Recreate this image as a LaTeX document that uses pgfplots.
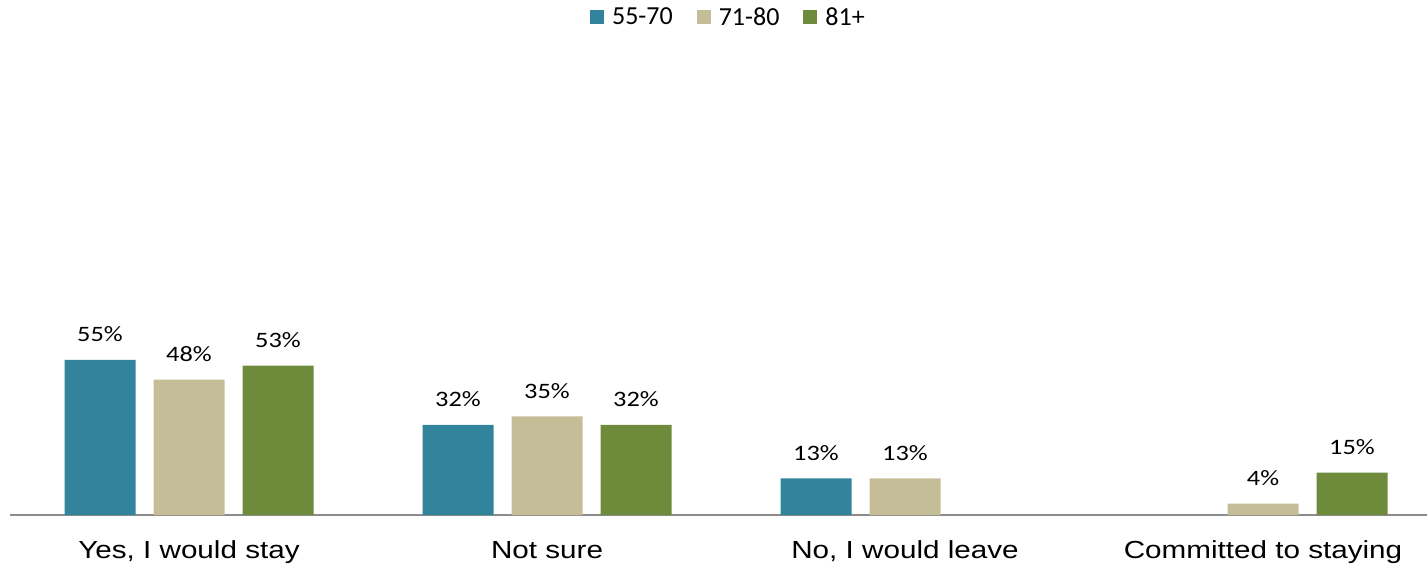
\documentclass[border=0pt]{standalone}
\usepackage{pgfplots}
\pgfplotsset{compat=1.18}
\usepackage{fontspec}
\setmainfont{Carlito}
\newfontfamily\catfont[FakeStretch=1.2]{Liberation Sans}
\newfontfamily\lblfont[FakeStretch=1.2]{Carlito}
\definecolor{cA}{HTML}{31849B}
\definecolor{cB}{HTML}{C4BD97}
\definecolor{cC}{HTML}{6E8B3B}
\definecolor{axgray}{HTML}{8C8C8C}
\begin{document}
\begin{tikzpicture}
\useasboundingbox (-10bp,-51bp) rectangle (1417bp,515bp);
\begin{axis}[
  at={(0,0)}, anchor=south west,
  scale only axis,
  width=1417bp, height=282bp,
  xmin=-0.5, xmax=3.458,
  ymin=0, ymax=100,
  ybar=18bp, bar width=71bp,
  axis y line=none,
  axis x line=bottom,
  x axis line style={axgray, line width=1.8bp, -},
  xtick={0,1,2,3},
  xticklabels={{Yes, I would stay},{Not sure},{No, I would leave},{Committed to staying}},
  major tick length=0pt,
  xticklabel style={anchor=base, yshift=-43bp, font=\catfont\fontsize{24.7bp}{28bp}\selectfont, text=black},
  clip=false,
  /pgf/number format/assume math mode=true,
  nodes near coords={\pgfmathprintnumber{\pgfplotspointmeta}\%},
  every node near coord/.append style={anchor=base, yshift=18bp, inner sep=0pt, text=black, font=\lblfont\fontsize{22bp}{25bp}\selectfont},
  legend columns=-1,
  legend style={at={(0.507,1.766)}, anchor=center, draw=none, fill=none,
    font=\fontsize{26bp}{30bp}\selectfont,
    /tikz/every even column/.append style={column sep=22bp},
    inner sep=0pt, outer sep=0pt},
  legend image code/.code={\fill[#1] (0bp,-7bp) rectangle (14bp,7bp);},
  /tikz/every odd column/.append style={column sep=0pt},
]
\addplot[fill=cA, draw=none] coordinates {(0,55) (1,32) (2,13)};
\addlegendentry{\hspace{6bp}55-70}
\addplot[fill=cB, draw=none] coordinates {(0,48) (1,35) (2,13) (3,4)};
\addlegendentry{\hspace{6bp}71-80}
\addplot[fill=cC, draw=none] coordinates {(0,53) (1,32) (3,15)};
\addlegendentry{\hspace{6bp}81+}
\end{axis}
\end{tikzpicture}
\end{document}
